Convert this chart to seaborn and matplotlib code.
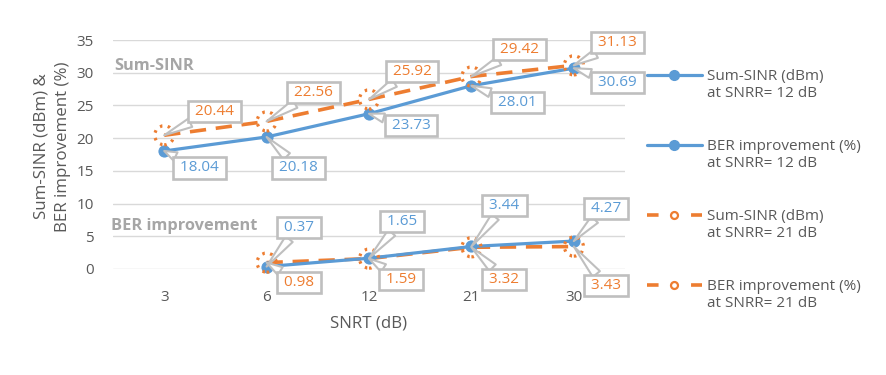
import numpy as np
import pandas as pd
import matplotlib
matplotlib.use("Agg")
import matplotlib.pyplot as plt
import seaborn as sns
from matplotlib.lines import Line2D
from matplotlib.legend_handler import HandlerTuple

# ---------------- data ----------------
snrt = ["3", "6", "12", "21", "30"]
sinr_12 = [18.04, 20.18, 23.73, 28.01, 30.69]
sinr_21 = [20.44, 22.56, 25.92, 29.42, 31.13]
ber_12 = [np.nan, 0.37, 1.65, 3.44, 4.27]
ber_21 = [np.nan, 0.98, 1.59, 3.32, 3.43]
series_labels = ["Sum-SINR (dBm)\nat SNRR= 12 dB",
                 "BER improvement (%)\nat SNRR= 12 dB",
                 "Sum-SINR (dBm)\nat SNRR= 21 dB",
                 "BER improvement (%)\nat SNRR= 21 dB"]

BLUE = "#5b9bd5"
ORANGE = "#ed7d31"
GRAY = "#595959"
BOXGRAY = "#bfbfbf"
FS = 11

sns.set_theme(style="white")
plt.rcParams["font.family"] = ["Open Sans", "DejaVu Sans"]

df = pd.DataFrame({"SNRT": snrt, "s12": sinr_12, "s21": sinr_21,
                   "b12": ber_12, "b21": ber_21})

fig = plt.figure(figsize=(8.86, 3.75), dpi=100)
ax = fig.add_axes([113 / 886, 1 - 269 / 375, (625 - 113) / 886, (269 - 40) / 375])

ax.set_ylim(0, 35)
ax.set_yticks(np.arange(0, 36, 5))
ax.yaxis.grid(True, color="#d9d9d9", lw=1.0)
ax.set_axisbelow(True)
for s in ax.spines.values():
    s.set_visible(False)

for col in ["s21", "b21"]:
    sns.lineplot(data=df, x="SNRT", y=col, ax=ax, color=ORANGE, lw=2.6,
                 dashes=False, linestyle=(0, (4.5, 2.7)), sort=False, zorder=3,
                 legend=False)
for col in ["s12", "b12"]:
    sns.lineplot(data=df, x="SNRT", y=col, ax=ax, color=BLUE, lw=2.3,
                 marker="o", markersize=8, markeredgecolor=BLUE,
                 sort=False, zorder=4, legend=False)
for col in ["s21", "b21"]:
    sub = df.dropna(subset=[col])
    ax.scatter(sub["SNRT"], sub[col], s=190, facecolors="none",
               edgecolors=ORANGE, linewidths=2.3, linestyles=(0, (0.8, 1.7)),
               zorder=5, clip_on=False)

ax.set_xlim(-0.5, 4.5)
for line in ax.lines:
    line.set_clip_on(False)

ax.tick_params(axis="y", length=0, labelsize=FS, colors=GRAY, pad=14)
ax.tick_params(axis="x", length=0, labelsize=FS, colors=GRAY, pad=15)
ax.set_xlabel("SNRT (dB)", fontsize=12.2, color=GRAY, labelpad=8)
ax.set_ylabel("Sum-SINR (dBm) &\nBER improvement (%)", fontsize=12.2,
              color=GRAY, linespacing=1.45)
ax.yaxis.set_label_coords(-0.082, 0.535)

ax.text(-0.49, 31.0, "Sum-SINR", fontsize=11.8, fontweight="bold", color="#a6a6a6",
        va="center", ha="left")
ax.text(-0.52, 6.6, "BER improvement", fontsize=11.8, fontweight="bold",
        color="#a6a6a6", va="center", ha="left")

offsets = {
    "s12": [(35, -17), (32, -31), (42, -12), (46, -17), (44, -14)],
    "s21": [(50, 24), (47, 29), (43, 28), (48, 27), (44, 23)],
    "b12": [None, (32, 39), (33, 37), (33, 41), (32, 33)],
    "b21": [None, (32, -20), (32, -21), (33, -32), (32, -39)],
}
colors = {"s12": BLUE, "b12": BLUE, "s21": ORANGE, "b21": ORANGE}
for col, offs in offsets.items():
    for i, off in enumerate(offs):
        v = df[col].iloc[i]
        if off is None or np.isnan(v):
            continue
        ax.annotate(f" {v:.2f} ", xy=(i, v), xytext=off,
                    textcoords="offset pixels", ha="center", va="center",
                    fontsize=FS, color=colors[col], zorder=6,
                    bbox=dict(boxstyle="square,pad=0.2", fc="white",
                              ec=BOXGRAY, lw=1.9),
                    arrowprops=dict(arrowstyle="wedge,tail_width=0.6,shrink_factor=0.5",
                                    fc="white", ec=BOXGRAY, lw=1.5,
                                    shrinkA=0, shrinkB=0),
                    annotation_clip=False)


class UpTuple(HandlerTuple):
    def create_artists(self, legend, orig_handle, xdescent, ydescent, width,
                       height, fontsize, trans):
        return super().create_artists(legend, orig_handle, xdescent,
                                      ydescent - 1.3 * fontsize, width,
                                      height, fontsize, trans)


blue_h = Line2D([], [], color=BLUE, lw=2.3, marker="o", markersize=7)
or_left = Line2D([], [], color=ORANGE, lw=2.6, linestyle=(0, (3.2, 9.0)))
or_ring = Line2D([], [], color="none", marker="o", markersize=5,
                 markerfacecolor="none", markeredgecolor=ORANGE,
                 markeredgewidth=1.6, linestyle="none")
handles = [(blue_h,), (blue_h,), (or_left, or_ring), (or_left, or_ring)]
leg = fig.legend(handles, series_labels,
                 handler_map={tuple: UpTuple(ndivide=1)},
                 loc="upper left", bbox_to_anchor=(633 / 886, 1 - 55 / 375),
                 frameon=False, fontsize=FS, labelcolor=GRAY,
                 handlelength=3.6, handletextpad=0.35, labelspacing=2.47)

fig.savefig("out.png", dpi=100)
